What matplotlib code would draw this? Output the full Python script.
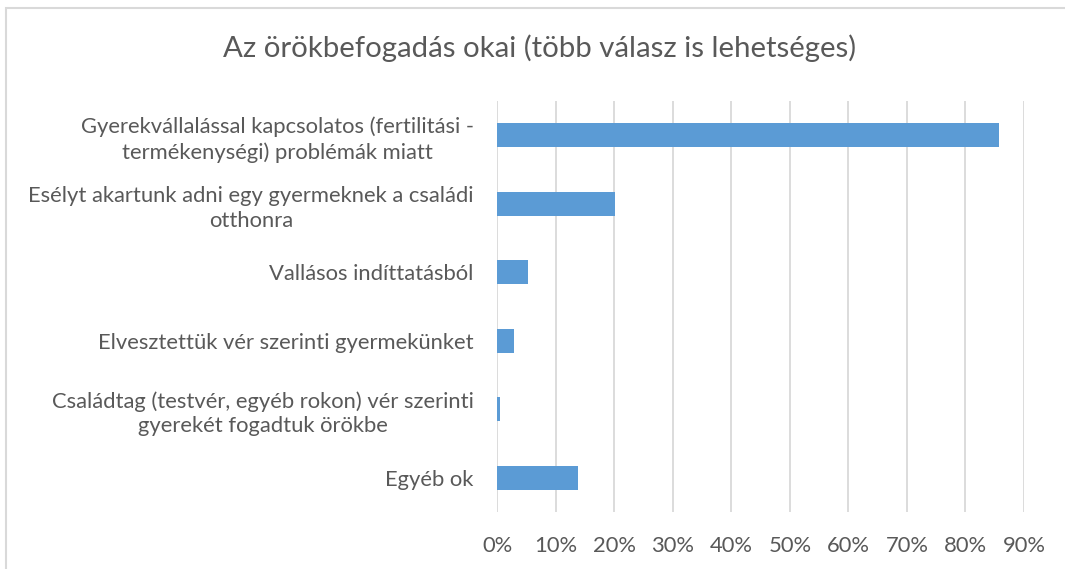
import matplotlib.pyplot as plt
from matplotlib.patches import Rectangle
from matplotlib.ticker import PercentFormatter

plt.rcParams['font.family'] = ['Lato', 'DejaVu Sans']

# categories top to bottom and their share of answers
categories = [
    'Gyerekvállalással kapcsolatos (fertilitási -\ntermékenységi) problémák miatt',
    'Esélyt akartunk adni egy gyermeknek a családi\notthonra',
    'Vallásos indíttatásból',
    'Elvesztettük vér szerinti gyermekünket',
    'Családtag (testvér, egyéb rokon) vér szerinti\ngyerekét fogadtuk örökbe',
    'Egyéb ok',
]
shares = [0.857, 0.201, 0.053, 0.029, 0.004, 0.137]
x_ticks = [0, 0.1, 0.2, 0.3, 0.4, 0.5, 0.6, 0.7, 0.8, 0.9]

text_color = '#595959'
grid_color = '#D9D9D9'
bar_color = '#5B9BD5'

fig = plt.figure(figsize=(10.65, 5.69), dpi=100)
ax = fig.add_axes([0.467, 0.1002, 0.4945, 0.7223])

pos = list(range(len(categories)))
ax.barh(pos, shares, height=0.35, color=bar_color, zorder=3)
ax.set_ylim(len(categories) - 0.5, -0.5)
ax.set_xlim(0, 0.9)

ax.set_xticks(x_ticks)
ax.xaxis.set_major_formatter(PercentFormatter(1.0, decimals=0))
ax.set_yticks(pos)
ax.set_yticklabels(categories, multialignment='center', linespacing=1.3)

ax.grid(axis='x', color=grid_color, linewidth=1.3, zorder=0)
for s in ax.spines.values():
    s.set_visible(False)
ax.tick_params(axis='both', length=0, labelsize=15.8, colors=text_color)
ax.tick_params(axis='y', pad=17)
ax.tick_params(axis='x', pad=17)

fig.text(0.507, 0.915, 'Az örökbefogadás okai (több válasz is lehetséges)',
         ha='center', va='center', fontsize=21.2, color=text_color)

# chart area border (cropped on the right and bottom)
fig.patches.append(Rectangle((6 / 1065, -0.1), 1.2, 1 - 8 / 569 + 0.1,
                             transform=fig.transFigure, fill=False,
                             edgecolor=grid_color, linewidth=1.5))

fig.savefig('out.png', dpi=100)
